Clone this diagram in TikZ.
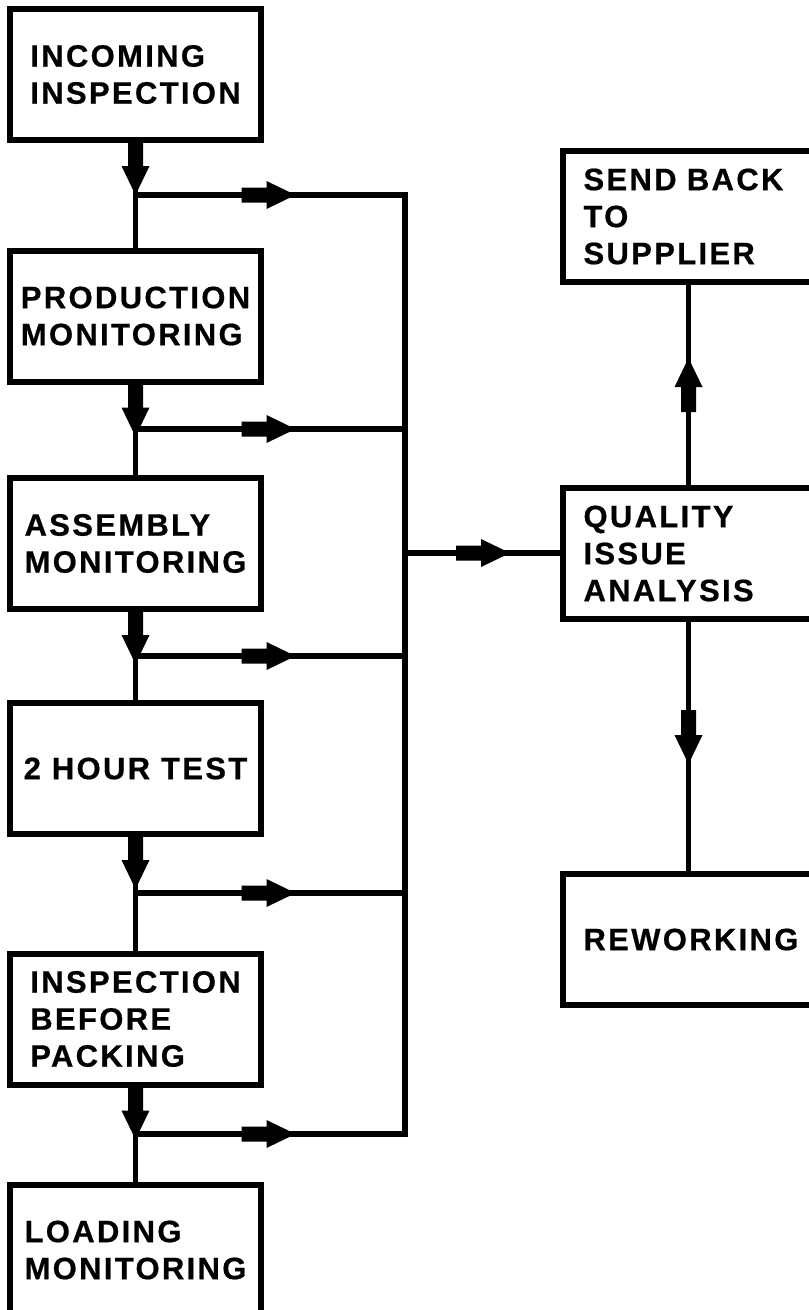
\documentclass[tikz,border=0pt]{standalone}
\usepackage{fontspec}
\newfontfamily\boxfont{Liberation Sans Bold}[LetterSpace=7.5, FakeBold=0.6]
\usetikzlibrary{decorations.markings}

\begin{document}
\begin{tikzpicture}[x=1pt, y=-1pt,
	stepbox/.style={rectangle, draw, line width=6pt, minimum width=251pt, minimum height=131pt, inner sep=0pt, outer sep=0pt, align=left, font=\boxfont\fontsize{31}{37}\selectfont},
	sidebox/.style={stepbox, text width=210pt},
	flow/.style={line width=5.5pt, line cap=rect},
	fatarrow/.style={postaction={decorate}, decoration={markings, mark=at position #1 with {\fill (0,-7.5) -- (25,-7.5) -- (25,-14) -- (54,0) -- (25,14) -- (25,7.5) -- (0,7.5) -- cycle;}}}]
	\useasboundingbox (0,0) rectangle (809,1310);

	% --- Process steps ---
	\node[stepbox] (b1) at (135.5,74.5) {INCOMING\\INSPECTION};
	\node[stepbox] (b2) at (135.5,316) {PRODUCTION\\MONITORING};
	\node[stepbox] (b3) at (135.5,543.5) {ASSEMBLY\\MONITORING};
	\node[stepbox] (b4) at (135.5,768.5) {2 HOUR TEST};
	\node[stepbox] (b5) at (135.5,1019) {INSPECTION\\BEFORE\\PACKING};
	\node[stepbox] (b6) at (135.5,1250) {LOADING\\MONITORING};

	% --- Quality side ---
	\node[sidebox] (sbs) at (688.5,216.5) {SEND BACK\\TO\\SUPPLIER};
	\node[sidebox] (qia) at (688.5,553.5) {QUALITY\\ISSUE\\ANALYSIS};
	\node[sidebox] (rw) at (688.5,939.5) {REWORKING};

	% junctions
	\coordinate (j1) at (135.5,195);
	\coordinate (j2) at (135.5,429);
	\coordinate (j3) at (135.5,656);
	\coordinate (j4) at (135.5,893);
	\coordinate (j5) at (135.5,1134);
	\coordinate (qin) at (405,553);

	% --- Main flow ---
	\draw[flow, fatarrow=1pt] (b1.south) -- (b2.north);
	\draw[flow, fatarrow=1pt] (b2.south) -- (b3.north);
	\draw[flow, fatarrow=1pt] (b3.south) -- (b4.north);
	\draw[flow, fatarrow=1pt] (b4.south) -- (b5.north);
	\draw[flow, fatarrow=1pt] (b5.south) -- (b6.north);

	% --- Branches to the collecting line ---
	\draw[flow, fatarrow=106pt] (j1) -- (j1 -| qin);
	\draw[flow, fatarrow=106pt] (j2) -- (j2 -| qin);
	\draw[flow, fatarrow=106pt] (j3) -- (j3 -| qin);
	\draw[flow, fatarrow=106pt] (j4) -- (j4 -| qin);
	\draw[flow, fatarrow=106pt] (j5) -- (j5 -| qin);
	\draw[flow] (j1 -| qin) -- (j5 -| qin);

	\draw[flow, fatarrow=51pt] (qin) -- (qin -| qia.west);
	\draw[flow, fatarrow=76pt] (qia.north) -- (sbs.south);
	\draw[flow, fatarrow=91pt] (qia.south) -- (rw.north);
\end{tikzpicture}
\end{document}
